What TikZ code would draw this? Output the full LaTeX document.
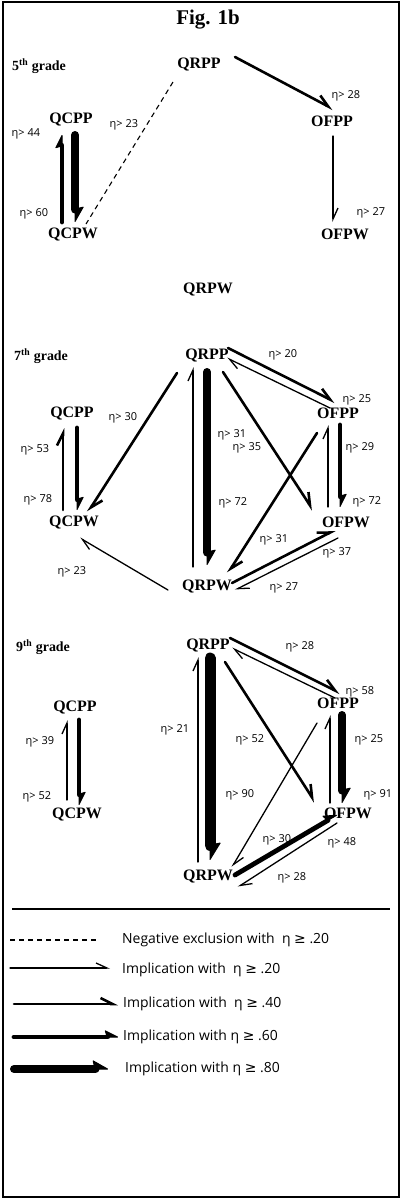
\documentclass[tikz,border=0pt]{standalone}
\usepackage{fontspec}
\setmainfont{Liberation Serif}
\newfontfamily\lgfont{Open Sans}
\newfontfamily\symfont{DejaVu Sans}
\usetikzlibrary{arrows.meta}
\newcommand{\gesym}{{\symfont ≥}}
\tikzset{
  nm/.style={font=\bfseries\fontsize{16}{16}\selectfont, inner sep=0pt},
  gr/.style={font=\bfseries\fontsize{14}{14}\selectfont, inner sep=0pt, anchor=west},
  lb/.style={font=\lgfont\fontsize{11}{11}\selectfont, inner sep=0pt},
  lg/.style={font=\lgfont\fontsize{14}{14}\selectfont, inner sep=0pt, anchor=west},
  a20/.style={line width=1.3bp, line cap=round, -{Straight Barb[harpoon,length=11bp,width=10bp]}},
  a40/.style={line width=2.6bp, line cap=round, -{Straight Barb[harpoon,length=12bp,width=12bp]}},
  a60/.style={line width=4.8bp, line cap=round, -{Stealth[harpoon,round,length=14bp,width=14bp,inset=2bp,line width=1bp]}},
  a80/.style={line width=8bp, line cap=round, -{Stealth[harpoon,round,length=16bp,width=18bp,inset=2bp,line width=1bp]}},
  a90/.style={line width=11bp, line cap=round, -{Stealth[harpoon,round,length=18bp,width=22bp,inset=2bp,line width=1bp]}},
  neg/.style={line width=1.1bp, dash pattern=on 5bp off 4bp},
}
\newcommand{\et}[1]{η>\hspace{3bp}#1}
\begin{document}
\begin{tikzpicture}[x=1bp,y=-1bp]
\useasboundingbox (0,0) rectangle (405,1203);
\draw[line width=1.6bp] (3,2) rectangle (399,1197);
\node[font=\bfseries\fontsize{21}{21}\selectfont, inner sep=0pt] (title) at (208,20) {Fig. 1b};

% ---------- 5th grade ----------
\node[gr] (g5) at (12,66) {5\textsuperscript{th} grade};
\node[nm] (q5rpp) at (199,65) {QRPP};
\node[nm] (o5fpp) at (332,121) {OFPP};
\node[nm] (q5cpp) at (71,120) {QCPP};
\node[nm] (q5cpw) at (73,235) {QCPW};
\node[nm] (o5fpw) at (345,234) {OFPW};
\node[nm] (q5rpw) at (208,290) {QRPW};

\draw[a40] ([shift={(36,-8)}]q5rpp.center) -- ([shift={(1,-12)}]o5fpp.center);
\draw[neg] ([shift={(-26,17)}]q5rpp.center) -- ([shift={(13,-11)}]q5cpw.center);
\draw[a60] ([shift={(-11,-13)}]q5cpw.center) -- ([shift={(-9,15)}]q5cpp.center);
\draw[a80] ([shift={(4,15)}]q5cpp.center) -- ([shift={(2,-13)}]q5cpw.center);
\draw[a20] ([shift={(1,15)}]o5fpp.center) -- ([shift={(-12,-12)}]o5fpw.center);

\node[lb] (l5a) at (346,96) {\et{28}};
\node[lb] (l5b) at (124,125) {\et{23}};
\node[lb] (l5c) at (26,134) {\et{44}};
\node[lb] (l5d) at (34,214) {\et{60}};
\node[lb] (l5e) at (371,213) {\et{27}};

% ---------- 7th grade ----------
\node[gr] (g7) at (14,356) {7\textsuperscript{th} grade};
\node[nm] (q7rpp) at (207,356) {QRPP};
\node[nm] (o7fpp) at (338,413) {OFPP};
\node[nm] (q7cpp) at (72,414) {QCPP};
\node[nm] (q7cpw) at (74,523) {QCPW};
\node[nm] (o7fpw) at (346,522) {OFPW};
\node[nm] (q7rpw) at (207,587) {QRPW};

\draw[a40] ([shift={(21,-8)}]q7rpp.center) -- ([shift={(-3,-11)}]o7fpp.center);
\draw[a20] ([shift={(-8,-5)}]o7fpp.center) -- ([shift={(20,2)}]q7rpp.center);
\draw[a40] ([shift={(-30,17)}]q7rpp.center) -- ([shift={(14,-11)}]q7cpw.center);
\draw[a20] ([shift={(-14,-20)}]q7rpw.center) -- ([shift={(-14,11)}]q7rpp.center);
\draw[a80] ([shift={(0,16)}]q7rpp.center) -- ([shift={(0,-22)}]q7rpw.center);
\draw[a40] ([shift={(16,16)}]q7rpp.center) -- ([shift={(-33,-12)}]o7fpw.center);
\draw[a40] ([shift={(-21,20)}]o7fpp.center) -- ([shift={(21,-14)}]q7rpw.center);
\draw[a20] ([shift={(-18,-15)}]o7fpw.center) -- ([shift={(-10,12)}]o7fpp.center);
\draw[a60] ([shift={(2,12)}]o7fpp.center) -- ([shift={(-6,-15)}]o7fpw.center);
\draw[a40] ([shift={(25,-4)}]q7rpw.center) -- ([shift={(-11,8)}]o7fpw.center);
\draw[a20] ([shift={(-8,16)}]o7fpw.center) -- ([shift={(28,3)}]q7rpw.center);
\draw[a20] ([shift={(-39,3)}]q7rpw.center) -- ([shift={(6,15)}]q7cpw.center);
\draw[a40] ([shift={(-11,-13)}]q7cpw.center) -- ([shift={(-9,14)}]q7cpp.center);
\draw[a60] ([shift={(5,14)}]q7cpp.center) -- ([shift={(3,-13)}]q7cpw.center);

\node[lb] (l7a) at (283,355) {\et{20}};
\node[lb] (l7b) at (357,400) {\et{25}};
\node[lb] (l7c) at (123,418) {\et{30}};
\node[lb] (l7d) at (232,435) {\et{31}};
\node[lb] (l7e) at (247,448) {\et{35}};
\node[lb] (l7f) at (233,503) {\et{72}};
\node[lb] (l7g) at (274,540) {\et{31}};
\node[lb] (l7h) at (360,448) {\et{29}};
\node[lb] (l7i) at (367,502) {\et{72}};
\node[lb] (l7j) at (337,553) {\et{37}};
\node[lb] (l7k) at (284,588) {\et{27}};
\node[lb] (l7l) at (72,572) {\et{23}};
\node[lb] (l7m) at (35,450) {\et{53}};
\node[lb] (l7n) at (38,500) {\et{78}};

% ---------- 9th grade ----------
\node[gr] (g9) at (16,647) {9\textsuperscript{th} grade};
\node[nm] (q9rpp) at (208,646) {QRPP};
\node[nm] (o9fpp) at (338,703) {OFPP};
\node[nm] (q9cpp) at (75,708) {QCPP};
\node[nm] (q9cpw) at (77,815) {QCPW};
\node[nm] (o9fpw) at (348,813) {OFPW};
\node[nm] (q9rpw) at (208,877) {QRPW};

\draw[a40] ([shift={(22,-8)}]q9rpp.center) -- ([shift={(2,-10)}]o9fpp.center);
\draw[a20] ([shift={(-3,-5)}]o9fpp.center) -- ([shift={(24,2)}]q9rpp.center);
\draw[a20] ([shift={(-10,-15)}]q9rpw.center) -- ([shift={(-10,11)}]q9rpp.center);
\draw[a90] ([shift={(2,12)}]q9rpp.center) -- ([shift={(2,-17)}]q9rpw.center);
\draw[a40] ([shift={(17,16)}]q9rpp.center) -- ([shift={(-33,-11)}]o9fpw.center);
\draw[a20] ([shift={(-21,20)}]o9fpp.center) -- ([shift={(24,-10)}]q9rpw.center);
\draw[a20] ([shift={(-18,-10)}]o9fpw.center) -- ([shift={(-8,12)}]o9fpp.center);
\draw[a80] ([shift={(4,12)}]o9fpp.center) -- ([shift={(-6,-10)}]o9fpw.center);
\draw[a60] ([shift={(27,-2)}]q9rpw.center) -- ([shift={(-11,2)}]o9fpw.center);
\draw[a20] ([shift={(-11,10)}]o9fpw.center) -- ([shift={(30,10)}]q9rpw.center);
\draw[a20] ([shift={(-10,-15)}]q9cpw.center) -- ([shift={(-8,12)}]q9cpp.center);
\draw[a60] ([shift={(4,12)}]q9cpp.center) -- ([shift={(2,-10)}]q9cpw.center);

\node[lb] (l9a) at (300,647) {\et{28}};
\node[lb] (l9b) at (360,692) {\et{58}};
\node[lb] (l9c) at (175,730) {\et{21}};
\node[lb] (l9d) at (240,795) {\et{90}};
\node[lb] (l9e) at (250,740) {\et{52}};
\node[lb] (l9f) at (277,840) {\et{30}};
\node[lb] (l9g) at (369,740) {\et{25}};
\node[lb] (l9h) at (378,795) {\et{91}};
\node[lb] (l9i) at (342,843) {\et{48}};
\node[lb] (l9j) at (292,878) {\et{28}};
\node[lb] (l9k) at (40,742) {\et{39}};
\node[lb] (l9l) at (37,797) {\et{52}};

% ---------- legend ----------
\coordinate (s0) at (12,909);
\coordinate (s1) at (390,909);
\draw[line width=1.8bp] (s0) -- (s1);
\coordinate (d0) at (10,940); \coordinate (d1) at (100,940);
\coordinate (e0) at (10,968); \coordinate (e1) at (110,968);
\coordinate (f0) at (14,1004); \coordinate (f1) at (118,1004);
\coordinate (h0) at (14,1037); \coordinate (h1) at (118,1037);
\coordinate (k0) at (14,1069); \coordinate (k1) at (108,1069);
\draw[neg] (d0) -- (d1);
\draw[a20] (e0) -- (e1);
\draw[a40] (f0) -- (f1);
\draw[a60] (h0) -- (h1);
\draw[a80] (k0) -- (k1);
\node[lg] (t1) at (122,940) {Negative exclusion with \ η \gesym{} .20};
\node[lg] (t2) at (122,970) {Implication with \ η \gesym{} .20};
\node[lg] (t3) at (123,1004) {Implication with \ η \gesym{} .40};
\node[lg] (t4) at (123,1037) {Implication with η \gesym{} .60};
\node[lg] (t5) at (125,1069) {Implication with η \gesym{} .80};
\end{tikzpicture}
\end{document}
